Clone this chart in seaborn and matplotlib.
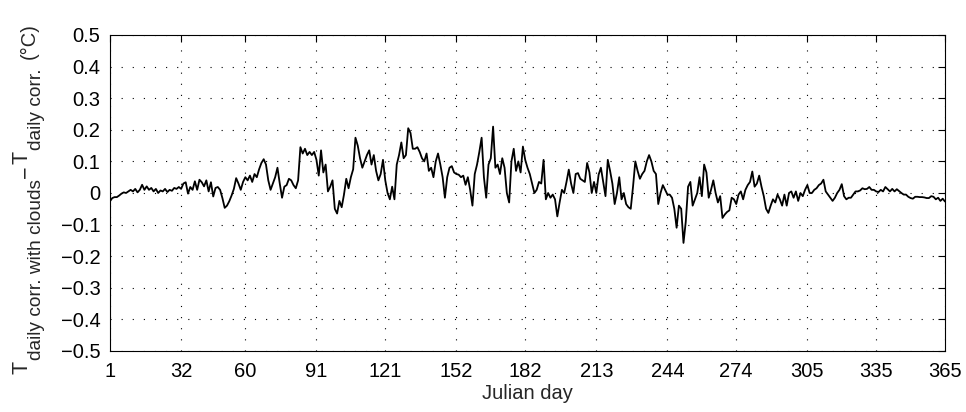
import numpy as np
import pandas as pd
import matplotlib
matplotlib.use("Agg")
import matplotlib.pyplot as plt
import seaborn as sns

# Daily differences (deg C), split by segments of the year
days_001_058 = [-0.026, -0.016, -0.013, -0.013, -0.008, -0.002, 0.002, 0.0, 0.005, 0.01,
                0.005, 0.013, 0.002, 0.01, 0.026, 0.01, 0.021, 0.01, 0.016, 0.005,
                0.013, 0.0, 0.008, 0.005, 0.013, 0.003, 0.01, 0.007, 0.016, 0.013,
                0.019, 0.013, 0.03, 0.034, -0.002, 0.019, 0.01, 0.037, 0.01, 0.042,
                0.034, 0.021, 0.04, 0.005, 0.034, -0.011, 0.016, 0.019, 0.01, -0.016,
                -0.047, -0.04, -0.026, -0.008, 0.013, 0.047, 0.03, 0.01]
days_059_118 = [0.035, 0.05, 0.04, 0.055, 0.035, 0.06, 0.05, 0.075, 0.095, 0.107,
                0.09, 0.04, 0.01, 0.03, 0.05, 0.08, 0.03, -0.015, 0.02, 0.025,
                0.045, 0.04, 0.025, 0.015, 0.04, 0.145, 0.125, 0.14, 0.12, 0.13,
                0.12, 0.13, 0.105, 0.055, 0.135, 0.065, 0.09, 0.005, 0.02, 0.04,
                -0.05, -0.065, -0.025, -0.045, -0.005, 0.045, 0.015, 0.05, 0.075, 0.175,
                0.15, 0.11, 0.08, 0.1, 0.12, 0.135, 0.09, 0.12, 0.07, 0.04]
days_119_180 = [0.06, 0.105, 0.04, 0.0, -0.02, 0.02, -0.02, 0.09, 0.12, 0.16,
                0.11, 0.12, 0.205, 0.19, 0.14, 0.14, 0.145, 0.13, 0.11, 0.1,
                0.125, 0.07, 0.08, 0.05, 0.1, 0.125, 0.09, 0.05, -0.015, 0.05,
                0.08, 0.085, 0.065, 0.06, 0.058, 0.05, 0.055, 0.026, 0.05, 0.01,
                -0.04, 0.06, 0.09, 0.13, 0.175, 0.05, -0.015, 0.09, 0.11, 0.21,
                0.08, 0.09, 0.06, 0.11, 0.08, 0.0, -0.03, 0.1, 0.14, 0.07,
                0.1, 0.065]
days_181_241 = [0.147, 0.105, 0.08, 0.06, 0.03, 0.0, 0.01, 0.035, 0.03, 0.105,
                -0.02, 0.0, -0.015, -0.005, -0.02, -0.074, -0.03, 0.01, 0.0, 0.035,
                0.074, 0.03, 0.0, 0.06, 0.063, 0.045, 0.04, 0.035, 0.095, 0.065,
                0.0, 0.035, 0.0, 0.058, 0.08, 0.035, -0.01, 0.105, 0.07, 0.03,
                -0.035, 0.0, 0.05, -0.02, 0.0, -0.035, -0.045, -0.05, 0.02, 0.1,
                0.07, 0.045, 0.06, 0.07, 0.1, 0.12, 0.1, 0.07, 0.06, -0.035,
                0.0]
days_242_302 = [0.025, 0.01, -0.005, -0.005, -0.015, -0.05, -0.11, -0.04, -0.05, -0.158,
                -0.09, 0.02, 0.035, -0.04, -0.02, 0.0, 0.05, -0.01, 0.09, 0.065,
                -0.015, 0.01, 0.04, 0.0, -0.03, -0.01, -0.079, -0.068, -0.06, -0.055,
                -0.015, -0.02, -0.035, -0.005, 0.005, -0.02, 0.01, 0.025, 0.035, 0.068,
                0.02, 0.03, 0.055, 0.02, -0.01, -0.05, -0.063, -0.04, -0.02, -0.03,
                -0.005, -0.02, -0.04, -0.005, -0.04, 0.0, 0.005, -0.015, 0.005, -0.025,
                0.0]
days_303_365 = [-0.01, 0.01, 0.025, 0.0, 0.0, 0.01, 0.015, 0.025, 0.03, 0.042,
                0.005, -0.005, -0.015, -0.025, -0.015, 0.0, 0.01, 0.028, -0.01, -0.02,
                -0.015, -0.015, -0.005, 0.005, 0.005, 0.008, 0.015, 0.012, 0.013, 0.019,
                0.01, 0.01, 0.005, 0.003, 0.01, 0.005, 0.019, 0.012, 0.005, 0.013,
                0.005, 0.012, 0.006, 0.0, -0.005, -0.005, -0.012, -0.016, -0.018, -0.012,
                -0.012, -0.013, -0.013, -0.014, -0.016, -0.016, -0.01, -0.012, -0.02, -0.015,
                -0.025, -0.018, -0.027]

x_ticks = [1, 32, 60, 91, 121, 152, 182, 213, 244, 274, 305, 335, 365]
y_ticks = [-0.5, -0.4, -0.3, -0.2, -0.1, 0, 0.1, 0.2, 0.3, 0.4, 0.5]
y_tick_labels = ["\u22120.5", "\u22120.4", "\u22120.3", "\u22120.2", "\u22120.1", "0",
                 "0.1", "0.2", "0.3", "0.4", "0.5"]
x_label = "Julian day"
# y label pieces: (text, font size, role)
y_label_parts = [("T", 15.5, "main"), ("daily corr. with clouds", 13.8, "sub"),
                 ("\u2212", 15.5, "minus"), ("T", 15.5, "main"), ("daily corr.", 13.8, "sub"),
                 ("(°C)", 14.5, "unit")]

values = days_001_058 + days_059_118 + days_119_180 + days_181_241 + days_242_302 + days_303_365
df = pd.DataFrame({"day": np.arange(1, len(values) + 1), "diff": values})

sns.set_style("white")
plt.rcParams["font.family"] = ["Liberation Sans", "DejaVu Sans"]

W, H = 966, 412
fig = plt.figure(figsize=(W / 100, H / 100), dpi=100)
ax = fig.add_axes([110 / W, 1 - 351 / H, (945 - 110) / W, (351 - 35) / H])

sns.lineplot(data=df, x="day", y="diff", color="black", linewidth=1.3, ax=ax)

ax.set_xlim(1, 365)
ax.set_ylim(-0.5, 0.5)
ax.set_xticks(x_ticks)
ax.set_xticklabels([str(t) for t in x_ticks])
ax.set_yticks(y_ticks)
ax.set_yticklabels(y_tick_labels)
ax.tick_params(direction="in", length=5, width=0.8, top=True, right=True,
               labelsize=14.5, colors="black")
ax.tick_params(axis="y", pad=7)
ax.tick_params(axis="x", pad=8)
ax.grid(True, color="black", linestyle=(0, (1, 9)), linewidth=0.8)
for s in ax.spines.values():
    s.set_color("black")
    s.set_linewidth(0.8)

ax.set_xlabel(x_label, fontsize=14.5, labelpad=2)
ax.set_ylabel("")

# Composite y label (stacked rotated pieces, MATLAB-like sub-scripts)
fig.canvas.draw()
renderer = fig.canvas.get_renderer()
baseline_x = {"main": 27, "sub": 41, "minus": 31, "unit": 35}
y_pos = 374.0
for text, size, role in y_label_parts:
    if role == "unit":
        y_pos -= 9
    t = fig.text(baseline_x[role] / W, 1 - y_pos / H, text, fontsize=size,
                 rotation=90, rotation_mode="anchor", ha="left", va="baseline")
    bb = t.get_window_extent(renderer)
    y_pos -= bb.height + 1

fig.savefig("out.png", dpi=100, facecolor="white")
